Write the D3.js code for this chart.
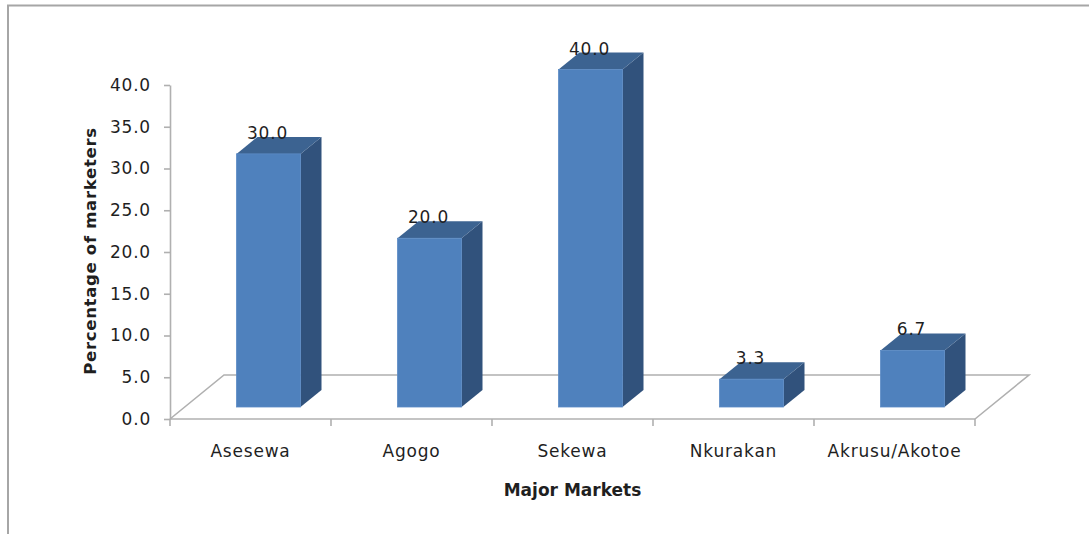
<!DOCTYPE html>
<html>
<head>
<meta charset="utf-8">
<script src="https://cdn.jsdelivr.net/npm/d3@7"></script>
<style>
  html, body { margin: 0; padding: 0; background: #fff; }
  svg { display: block; }
  text { font-family: "DejaVu Sans", sans-serif; fill: #1f1f1f; }
</style>
</head>
<body>
<svg id="chart" width="1089" height="534"></svg>
<script>
// Share of marketers by major market (%)
const markets = ["Asesewa", "Agogo", "Sekewa", "Nkurakan", "Akrusu/Akotoe"];
const percentages = [30.0, 20.0, 40.0, 3.3, 6.7];
const yTickValues = [0, 5, 10, 15, 20, 25, 30, 35, 40];
const xTitle = "Major Markets";
const yTitle = "Percentage of marketers";

const svg = d3.select("#chart");
const W = 1089, H = 534;

// Chart-area frame
svg.append("rect")
  .attr("x", 8).attr("y", 5.5)
  .attr("width", W + 20).attr("height", H + 20)
  .attr("fill", "#fff")
  .attr("stroke", "#a6a6a6").attr("stroke-width", 2);

// Plot geometry (oblique 3-D projection)
const left = 170, right = 975;
const floorDX = 54, floorDY = -44;      // floor depth
const barDX = 21, barDY = -17;          // bar depth
const barInset = 66.5, barWidth = 64;

const x = d3.scaleBand().domain(markets).range([left, right]).paddingInner(0).paddingOuter(0);
const yFront = d3.scaleLinear().domain([0, 40]).range([419, 85]);   // front (axis) plane
const yBar = d3.scaleLinear().domain([0, 40]).range([407, 69.5]);   // plane the bars stand on

const gridColor = "#b0b0b0";
const labelFont = { size: "17px", spacing: "0.8px" };

// Floor
const y0 = yFront(0);
svg.append("path")
  .attr("d", `M${left},${y0} L${left + floorDX},${y0 + floorDY} L${right + floorDX},${y0 + floorDY} L${right},${y0}`)
  .attr("fill", "none").attr("stroke", gridColor).attr("stroke-width", 1.6);

// Value axis
const yAxis = d3.axisLeft(yFront)
  .tickValues(yTickValues)
  .tickFormat(d3.format(".1f"))
  .tickSize(6).tickSizeOuter(0).tickPadding(13);
const gy = svg.append("g").attr("transform", `translate(${left},0)`).call(yAxis);
gy.select(".domain").attr("stroke", gridColor).attr("stroke-width", 1.6);
gy.selectAll(".tick line").attr("stroke", gridColor).attr("stroke-width", 1.6);
gy.selectAll(".tick text")
  .style("font-size", labelFont.size).style("letter-spacing", labelFont.spacing)
  .attr("fill", "#1f1f1f");

// Category axis: front floor edge, boundary ticks, centred labels
const boundaries = markets.map(m => x(m)).concat([right]);
svg.append("line")
  .attr("x1", left).attr("x2", right).attr("y1", y0).attr("y2", y0)
  .attr("stroke", gridColor).attr("stroke-width", 1.6);
svg.selectAll("line.xtick").data(boundaries).join("line")
  .attr("class", "xtick")
  .attr("x1", d => d).attr("x2", d => d)
  .attr("y1", y0).attr("y2", y0 + 7)
  .attr("stroke", gridColor).attr("stroke-width", 1.6);
svg.selectAll("text.xlabel").data(markets).join("text")
  .attr("class", "xlabel")
  .attr("x", d => x(d) + x.bandwidth() / 2)
  .attr("y", 457)
  .attr("text-anchor", "middle")
  .style("font-size", labelFont.size).style("letter-spacing", labelFont.spacing)
  .text(d => d);

// Bars
const data = markets.map((m, i) => ({ market: m, value: percentages[i] }));
const bars = svg.selectAll("g.bar").data(data).join("g").attr("class", "bar");

bars.each(function (d) {
  const g = d3.select(this);
  const x0 = x(d.market) + barInset, x1 = x0 + barWidth;
  const yt = yBar(d.value), yb = yBar(0);
  // side face
  g.append("path")
    .attr("d", `M${x1},${yt} L${x1 + barDX},${yt + barDY} L${x1 + barDX},${yb + barDY} L${x1},${yb} Z`)
    .attr("fill", "#31527c");
  // top face
  g.append("path")
    .attr("d", `M${x0},${yt} L${x1},${yt} L${x1 + barDX},${yt + barDY} L${x0 + barDX},${yt + barDY} Z`)
    .attr("fill", "#3c6391");
  // front face
  g.append("rect")
    .attr("x", x0).attr("y", yt)
    .attr("width", barWidth).attr("height", yb - yt)
    .attr("fill", "#4f81bd")
    .attr("stroke", "#5b8bc5").attr("stroke-width", 0.8);
  // value label
  g.append("text")
    .attr("x", x0 + barWidth / 2 - 1)
    .attr("y", yt + barDY + 2)
    .attr("text-anchor", "middle")
    .style("font-size", labelFont.size).style("letter-spacing", labelFont.spacing)
    .text(d3.format(".1f")(d.value));
});

// Axis titles
svg.append("text")
  .attr("x", (left + right) / 2).attr("y", 496)
  .attr("text-anchor", "middle")
  .style("font-size", "17px").style("font-weight", "bold")
  .text(xTitle);

svg.append("text")
  .attr("transform", "translate(96,251) rotate(-90)")
  .attr("text-anchor", "middle")
  .style("font-size", "16.5px").style("font-weight", "bold").style("letter-spacing", "0.7px")
  .text(yTitle);
</script>
</body>
</html>
